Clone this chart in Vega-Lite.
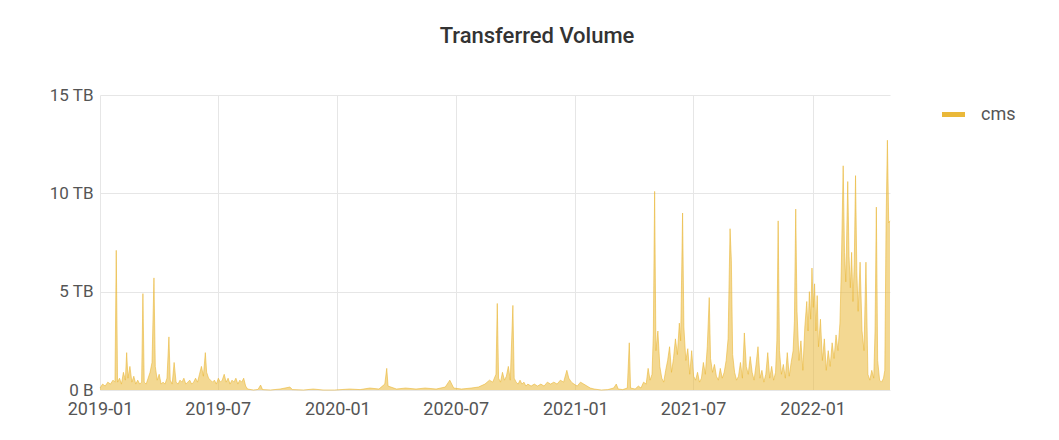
{
  "$schema": "https://vega.github.io/schema/vega-lite/v6.json",
  "autosize": {"type": "none"},
  "padding": {"left": 100, "top": 95, "right": 169, "bottom": 50},
  "width": 790,
  "height": 295,
  "background": "#ffffff",
  "title": {"text": "Transferred Volume", "font": "Roboto", "fontSize": 22, "fontWeight": 500, "color": "#333333", "anchor": "middle", "offset": 38, "dx": 42},
  "data": {"values": [
    {"date": "2019-01-01", "tb": 0.1}, {"date": "2019-01-05", "tb": 0.3}, {"date": "2019-01-09", "tb": 0.2}, {"date": "2019-01-13", "tb": 0.4},
    {"date": "2019-01-17", "tb": 0.3}, {"date": "2019-01-21", "tb": 0.5}, {"date": "2019-01-24", "tb": 0.4}, {"date": "2019-01-26", "tb": 7.1},
    {"date": "2019-01-28", "tb": 0.4}, {"date": "2019-01-31", "tb": 0.6}, {"date": "2019-02-03", "tb": 0.3}, {"date": "2019-02-06", "tb": 0.9},
    {"date": "2019-02-09", "tb": 0.5}, {"date": "2019-02-11", "tb": 1.9}, {"date": "2019-02-13", "tb": 0.6}, {"date": "2019-02-16", "tb": 1.2},
    {"date": "2019-02-19", "tb": 0.4}, {"date": "2019-02-22", "tb": 0.7}, {"date": "2019-02-25", "tb": 0.3}, {"date": "2019-02-28", "tb": 0.5},
    {"date": "2019-03-03", "tb": 0.3}, {"date": "2019-03-06", "tb": 0.4}, {"date": "2019-03-08", "tb": 4.9}, {"date": "2019-03-10", "tb": 0.4},
    {"date": "2019-03-13", "tb": 0.3}, {"date": "2019-03-16", "tb": 0.6}, {"date": "2019-03-19", "tb": 0.9}, {"date": "2019-03-22", "tb": 1.4},
    {"date": "2019-03-25", "tb": 5.7}, {"date": "2019-03-27", "tb": 1.2}, {"date": "2019-03-30", "tb": 0.5}, {"date": "2019-04-02", "tb": 0.8},
    {"date": "2019-04-05", "tb": 0.3}, {"date": "2019-04-08", "tb": 0.4}, {"date": "2019-04-11", "tb": 0.3}, {"date": "2019-04-14", "tb": 0.6},
    {"date": "2019-04-17", "tb": 2.7}, {"date": "2019-04-19", "tb": 0.5}, {"date": "2019-04-22", "tb": 0.3}, {"date": "2019-04-25", "tb": 1.4},
    {"date": "2019-04-28", "tb": 0.4}, {"date": "2019-05-01", "tb": 0.3}, {"date": "2019-05-04", "tb": 0.5}, {"date": "2019-05-07", "tb": 0.4},
    {"date": "2019-05-10", "tb": 0.6}, {"date": "2019-05-13", "tb": 0.3}, {"date": "2019-05-16", "tb": 0.4}, {"date": "2019-05-19", "tb": 0.5},
    {"date": "2019-05-22", "tb": 0.3}, {"date": "2019-05-25", "tb": 0.4}, {"date": "2019-05-28", "tb": 0.6}, {"date": "2019-05-31", "tb": 0.4},
    {"date": "2019-06-03", "tb": 0.8}, {"date": "2019-06-06", "tb": 1.2}, {"date": "2019-06-09", "tb": 0.7}, {"date": "2019-06-12", "tb": 1.9},
    {"date": "2019-06-14", "tb": 0.9}, {"date": "2019-06-17", "tb": 0.6}, {"date": "2019-06-20", "tb": 0.5}, {"date": "2019-06-23", "tb": 0.4},
    {"date": "2019-06-26", "tb": 0.5}, {"date": "2019-06-29", "tb": 0.3}, {"date": "2019-07-02", "tb": 0.6}, {"date": "2019-07-05", "tb": 0.4},
    {"date": "2019-07-08", "tb": 0.5}, {"date": "2019-07-11", "tb": 0.8}, {"date": "2019-07-14", "tb": 0.4}, {"date": "2019-07-17", "tb": 0.6},
    {"date": "2019-07-20", "tb": 0.3}, {"date": "2019-07-23", "tb": 0.5}, {"date": "2019-07-26", "tb": 0.4}, {"date": "2019-07-29", "tb": 0.6},
    {"date": "2019-08-01", "tb": 0.3}, {"date": "2019-08-04", "tb": 0.5}, {"date": "2019-08-07", "tb": 0.4}, {"date": "2019-08-10", "tb": 0.6},
    {"date": "2019-08-13", "tb": 0.2}, {"date": "2019-08-16", "tb": 0.05}, {"date": "2019-08-25", "tb": 0.0}, {"date": "2019-09-01", "tb": 0.03},
    {"date": "2019-09-05", "tb": 0.25}, {"date": "2019-09-08", "tb": 0.02}, {"date": "2019-09-20", "tb": 0.0}, {"date": "2019-10-05", "tb": 0.05},
    {"date": "2019-10-20", "tb": 0.15}, {"date": "2019-10-24", "tb": 0.02}, {"date": "2019-11-10", "tb": 0.0}, {"date": "2019-11-25", "tb": 0.05},
    {"date": "2019-12-10", "tb": 0.0}, {"date": "2019-12-28", "tb": 0.0}, {"date": "2020-01-20", "tb": 0.05}, {"date": "2020-02-05", "tb": 0.02},
    {"date": "2020-02-20", "tb": 0.1}, {"date": "2020-03-05", "tb": 0.05}, {"date": "2020-03-14", "tb": 0.3}, {"date": "2020-03-17", "tb": 1.1},
    {"date": "2020-03-19", "tb": 0.2}, {"date": "2020-04-01", "tb": 0.05}, {"date": "2020-04-15", "tb": 0.1}, {"date": "2020-05-01", "tb": 0.05},
    {"date": "2020-05-15", "tb": 0.1}, {"date": "2020-06-01", "tb": 0.05}, {"date": "2020-06-15", "tb": 0.15}, {"date": "2020-06-22", "tb": 0.5},
    {"date": "2020-06-28", "tb": 0.1}, {"date": "2020-07-10", "tb": 0.05}, {"date": "2020-07-25", "tb": 0.1}, {"date": "2020-08-05", "tb": 0.15},
    {"date": "2020-08-15", "tb": 0.3}, {"date": "2020-08-22", "tb": 0.5}, {"date": "2020-08-27", "tb": 0.4}, {"date": "2020-09-01", "tb": 0.8},
    {"date": "2020-09-03", "tb": 4.4}, {"date": "2020-09-05", "tb": 0.6}, {"date": "2020-09-08", "tb": 0.4}, {"date": "2020-09-11", "tb": 0.9},
    {"date": "2020-09-14", "tb": 0.5}, {"date": "2020-09-17", "tb": 0.7}, {"date": "2020-09-20", "tb": 1.2}, {"date": "2020-09-23", "tb": 0.5},
    {"date": "2020-09-27", "tb": 4.3}, {"date": "2020-09-29", "tb": 0.6}, {"date": "2020-10-02", "tb": 0.4}, {"date": "2020-10-05", "tb": 0.3},
    {"date": "2020-10-08", "tb": 0.5}, {"date": "2020-10-11", "tb": 0.3}, {"date": "2020-10-14", "tb": 0.4}, {"date": "2020-10-17", "tb": 0.2},
    {"date": "2020-10-20", "tb": 0.3}, {"date": "2020-10-25", "tb": 0.2}, {"date": "2020-10-30", "tb": 0.3}, {"date": "2020-11-04", "tb": 0.2},
    {"date": "2020-11-09", "tb": 0.3}, {"date": "2020-11-14", "tb": 0.2}, {"date": "2020-11-19", "tb": 0.4}, {"date": "2020-11-24", "tb": 0.3},
    {"date": "2020-11-29", "tb": 0.4}, {"date": "2020-12-04", "tb": 0.3}, {"date": "2020-12-09", "tb": 0.5}, {"date": "2020-12-14", "tb": 0.4},
    {"date": "2020-12-19", "tb": 1.0}, {"date": "2020-12-22", "tb": 0.6}, {"date": "2020-12-26", "tb": 0.4}, {"date": "2020-12-30", "tb": 0.3},
    {"date": "2021-01-04", "tb": 0.2}, {"date": "2021-01-09", "tb": 0.4}, {"date": "2021-01-14", "tb": 0.3}, {"date": "2021-01-19", "tb": 0.2},
    {"date": "2021-01-24", "tb": 0.1}, {"date": "2021-01-30", "tb": 0.05}, {"date": "2021-02-10", "tb": 0.0}, {"date": "2021-02-20", "tb": 0.02},
    {"date": "2021-03-01", "tb": 0.1}, {"date": "2021-03-05", "tb": 0.3}, {"date": "2021-03-08", "tb": 0.05}, {"date": "2021-03-15", "tb": 0.02},
    {"date": "2021-03-22", "tb": 0.1}, {"date": "2021-03-25", "tb": 2.4}, {"date": "2021-03-27", "tb": 0.1}, {"date": "2021-04-03", "tb": 0.05},
    {"date": "2021-04-08", "tb": 0.2}, {"date": "2021-04-12", "tb": 0.1}, {"date": "2021-04-16", "tb": 0.4}, {"date": "2021-04-20", "tb": 0.3},
    {"date": "2021-04-23", "tb": 1.1}, {"date": "2021-04-26", "tb": 0.5}, {"date": "2021-04-29", "tb": 0.8}, {"date": "2021-05-01", "tb": 2.8},
    {"date": "2021-05-03", "tb": 10.1}, {"date": "2021-05-05", "tb": 2.0}, {"date": "2021-05-08", "tb": 3.0}, {"date": "2021-05-11", "tb": 1.2},
    {"date": "2021-05-14", "tb": 0.6}, {"date": "2021-05-17", "tb": 0.4}, {"date": "2021-05-20", "tb": 1.0}, {"date": "2021-05-23", "tb": 1.5},
    {"date": "2021-05-26", "tb": 2.2}, {"date": "2021-05-29", "tb": 0.9}, {"date": "2021-06-01", "tb": 1.6}, {"date": "2021-06-04", "tb": 2.6},
    {"date": "2021-06-07", "tb": 1.8}, {"date": "2021-06-10", "tb": 3.4}, {"date": "2021-06-12", "tb": 2.5}, {"date": "2021-06-15", "tb": 9.0},
    {"date": "2021-06-17", "tb": 3.2}, {"date": "2021-06-20", "tb": 1.5}, {"date": "2021-06-23", "tb": 2.1}, {"date": "2021-06-26", "tb": 0.8},
    {"date": "2021-06-29", "tb": 2.0}, {"date": "2021-07-02", "tb": 0.7}, {"date": "2021-07-05", "tb": 0.5}, {"date": "2021-07-08", "tb": 0.9},
    {"date": "2021-07-11", "tb": 0.4}, {"date": "2021-07-14", "tb": 0.6}, {"date": "2021-07-17", "tb": 1.4}, {"date": "2021-07-20", "tb": 0.8},
    {"date": "2021-07-23", "tb": 2.2}, {"date": "2021-07-26", "tb": 4.7}, {"date": "2021-07-28", "tb": 1.6}, {"date": "2021-07-31", "tb": 0.9},
    {"date": "2021-08-03", "tb": 1.3}, {"date": "2021-08-06", "tb": 0.7}, {"date": "2021-08-09", "tb": 0.5}, {"date": "2021-08-12", "tb": 1.1},
    {"date": "2021-08-15", "tb": 0.6}, {"date": "2021-08-18", "tb": 0.9}, {"date": "2021-08-21", "tb": 1.5}, {"date": "2021-08-24", "tb": 2.6},
    {"date": "2021-08-27", "tb": 8.2}, {"date": "2021-08-29", "tb": 6.6}, {"date": "2021-08-31", "tb": 1.8}, {"date": "2021-09-03", "tb": 0.9},
    {"date": "2021-09-06", "tb": 0.5}, {"date": "2021-09-09", "tb": 0.7}, {"date": "2021-09-12", "tb": 1.4}, {"date": "2021-09-15", "tb": 0.6},
    {"date": "2021-09-18", "tb": 2.9}, {"date": "2021-09-21", "tb": 1.2}, {"date": "2021-09-24", "tb": 0.8}, {"date": "2021-09-27", "tb": 1.7},
    {"date": "2021-09-30", "tb": 0.9}, {"date": "2021-10-03", "tb": 0.5}, {"date": "2021-10-06", "tb": 1.3}, {"date": "2021-10-09", "tb": 2.2},
    {"date": "2021-10-12", "tb": 0.6}, {"date": "2021-10-15", "tb": 1.0}, {"date": "2021-10-18", "tb": 0.4}, {"date": "2021-10-21", "tb": 0.8},
    {"date": "2021-10-24", "tb": 1.9}, {"date": "2021-10-27", "tb": 0.6}, {"date": "2021-10-30", "tb": 1.2}, {"date": "2021-11-02", "tb": 0.5},
    {"date": "2021-11-05", "tb": 0.9}, {"date": "2021-11-07", "tb": 2.5}, {"date": "2021-11-09", "tb": 8.6}, {"date": "2021-11-11", "tb": 2.0},
    {"date": "2021-11-14", "tb": 0.8}, {"date": "2021-11-17", "tb": 1.3}, {"date": "2021-11-20", "tb": 0.6}, {"date": "2021-11-23", "tb": 1.9},
    {"date": "2021-11-26", "tb": 0.7}, {"date": "2021-11-29", "tb": 1.4}, {"date": "2021-12-02", "tb": 2.0}, {"date": "2021-12-04", "tb": 3.5},
    {"date": "2021-12-06", "tb": 9.2}, {"date": "2021-12-08", "tb": 4.0}, {"date": "2021-12-11", "tb": 1.5}, {"date": "2021-12-14", "tb": 2.5},
    {"date": "2021-12-17", "tb": 1.0}, {"date": "2021-12-20", "tb": 3.2}, {"date": "2021-12-23", "tb": 4.5}, {"date": "2021-12-25", "tb": 3.0},
    {"date": "2021-12-27", "tb": 5.0}, {"date": "2021-12-29", "tb": 3.6}, {"date": "2021-12-31", "tb": 6.2}, {"date": "2022-01-02", "tb": 4.2},
    {"date": "2022-01-04", "tb": 5.4}, {"date": "2022-01-06", "tb": 3.0}, {"date": "2022-01-08", "tb": 4.8}, {"date": "2022-01-10", "tb": 2.2},
    {"date": "2022-01-13", "tb": 3.6}, {"date": "2022-01-16", "tb": 1.5}, {"date": "2022-01-19", "tb": 2.6}, {"date": "2022-01-22", "tb": 1.0},
    {"date": "2022-01-25", "tb": 2.0}, {"date": "2022-01-28", "tb": 1.2}, {"date": "2022-01-31", "tb": 2.4}, {"date": "2022-02-03", "tb": 1.6},
    {"date": "2022-02-06", "tb": 2.8}, {"date": "2022-02-09", "tb": 2.0}, {"date": "2022-02-12", "tb": 3.4}, {"date": "2022-02-14", "tb": 6.0},
    {"date": "2022-02-17", "tb": 11.4}, {"date": "2022-02-19", "tb": 7.0}, {"date": "2022-02-21", "tb": 5.5}, {"date": "2022-02-24", "tb": 10.6},
    {"date": "2022-02-26", "tb": 6.8}, {"date": "2022-02-28", "tb": 5.2}, {"date": "2022-03-02", "tb": 7.0}, {"date": "2022-03-04", "tb": 4.5},
    {"date": "2022-03-06", "tb": 6.4}, {"date": "2022-03-08", "tb": 10.9}, {"date": "2022-03-10", "tb": 6.0}, {"date": "2022-03-12", "tb": 4.0},
    {"date": "2022-03-15", "tb": 6.5}, {"date": "2022-03-18", "tb": 3.0}, {"date": "2022-03-21", "tb": 2.0}, {"date": "2022-03-24", "tb": 6.5},
    {"date": "2022-03-27", "tb": 0.8}, {"date": "2022-03-30", "tb": 0.5}, {"date": "2022-04-02", "tb": 1.0}, {"date": "2022-04-05", "tb": 0.6},
    {"date": "2022-04-07", "tb": 3.0}, {"date": "2022-04-09", "tb": 9.3}, {"date": "2022-04-11", "tb": 1.5}, {"date": "2022-04-14", "tb": 0.5},
    {"date": "2022-04-17", "tb": 0.4}, {"date": "2022-04-20", "tb": 0.6}, {"date": "2022-04-22", "tb": 1.0}, {"date": "2022-04-24", "tb": 8.6},
    {"date": "2022-04-26", "tb": 12.7}, {"date": "2022-04-28", "tb": 8.5}, {"date": "2022-04-30", "tb": 8.6}
  ]},
  "encoding": {
    "x": {"field": "date", "type": "temporal",
      "scale": {"type": "utc", "domain": ["2019-01-01", "2022-04-30"]},
      "axis": {"title": null, "format": "%Y-%m", "tickCount": {"interval": "month", "step": 6},
        "grid": true, "gridColor": "#e6e6e6", "domain": false, "ticks": false, "labelPadding": 10,
        "labelFont": "Roboto", "labelFontSize": 18, "labelColor": "#555555", "labelFlush": false}},
    "y": {"field": "tb", "type": "quantitative",
      "scale": {"domain": [0, 15], "nice": false},
      "axis": {"title": null, "values": [0, 5, 10, 15], "labelExpr": "datum.value == 0 ? '0 B' : datum.value + ' TB'",
        "grid": true, "gridColor": "#e6e6e6", "domain": false, "ticks": false, "labelPadding": 7,
        "labelFont": "Roboto", "labelFontSize": 17, "labelColor": "#555555"}},
    "color": {"datum": "cms", "type": "nominal",
      "scale": {"range": ["#EAB839"]},
      "legend": {"title": null, "orient": "none", "legendX": 842, "legendY": 8,
        "symbolType": "M-1,-0.22H1V0.22H-1Z", "symbolSize": 529, "symbolOpacity": 1, "symbolStrokeWidth": 0,
        "labelFont": "Roboto", "labelFontSize": 18, "labelColor": "#555555", "labelOffset": 16}}
  },
  "layer": [
    {"mark": {"type": "area", "interpolate": "linear", "opacity": 0.55}},
    {"mark": {"type": "line", "interpolate": "linear", "strokeWidth": 1, "opacity": 0.6}}
  ],
  "config": {"view": {"stroke": null}}
}
